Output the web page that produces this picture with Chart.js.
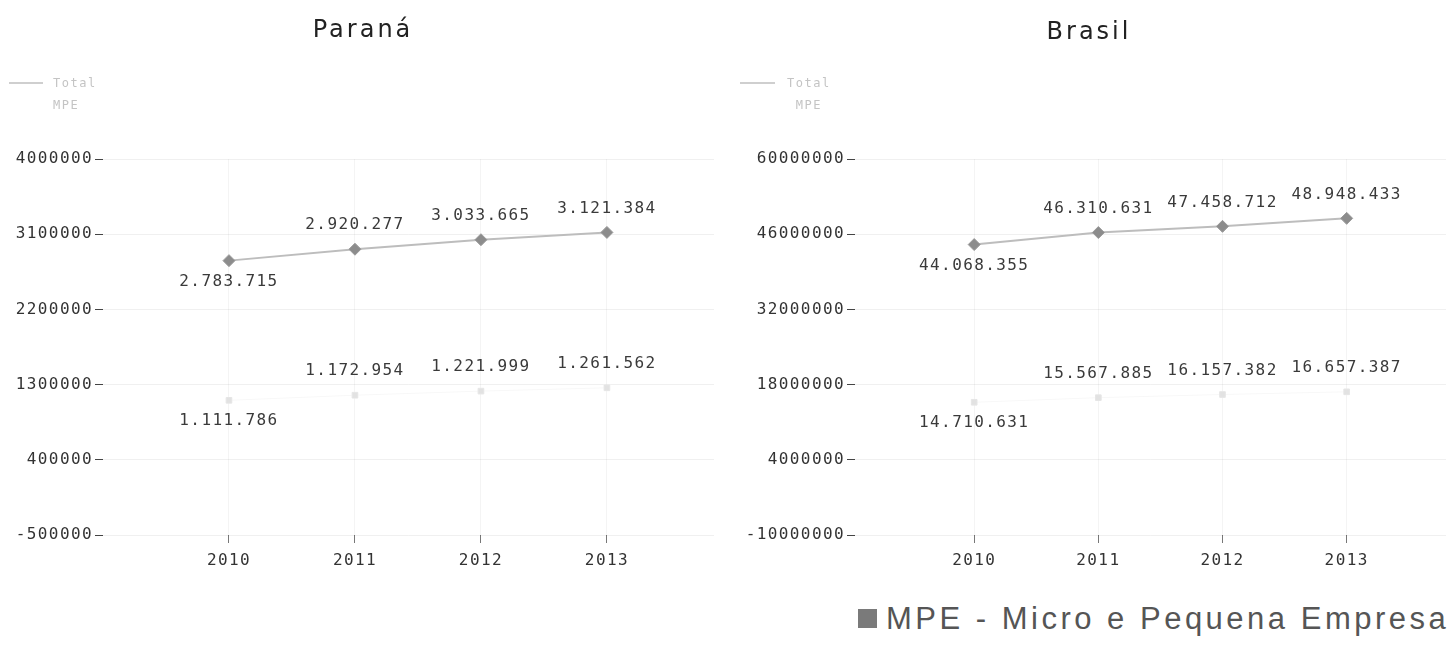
<!DOCTYPE html>
<html>
<head>
<meta charset="utf-8">
<script src="https://cdn.jsdelivr.net/npm/chart.js@4.4.1/dist/chart.umd.min.js"></script>
<style>
  html, body {margin: 0; padding: 0; background: #fff;}
  body {width: 1453px; height: 649px; position: relative; overflow: hidden;}
  .box {position: absolute; top: 0; height: 600px;}
  .title {position: absolute; font-family: "DejaVu Sans", sans-serif; font-size: 24px; letter-spacing: 3px; color: #222; transform: translateX(-50%); white-space: nowrap;}
  .mini {position: absolute; font-family: "DejaVu Sans Mono", monospace; font-size: 12px; letter-spacing: 1.5px; color: #c4c4c4; line-height: 22px;}
  .mini .swatch {position: absolute; height: 2px; background: #cfcfcf;}
  .bottom {position: absolute; left: 858px; top: 601px; font-family: "Liberation Sans", Arial, sans-serif; font-size: 31px; letter-spacing: 3.5px; color: #555; white-space: nowrap;}
  .bottom span {display: inline-block; width: 19px; height: 19px; background: #7a7a7a; margin-right: 9px; vertical-align: 1px;}
</style>
</head>
<body>
<div class="box" style="left:0;width:725px"><canvas id="paranaChart"></canvas></div>
<div class="box" style="left:725px;width:728px"><canvas id="brasilChart"></canvas></div>

<div class="title" style="left:363px;top:15px">Paraná</div>
<div class="title" style="left:1089px;top:17px">Brasil</div>

<div class="mini" style="left:53px;top:72px"><div class="swatch" style="left:-44px;top:10px;width:34px"></div>Total<br>MPE</div>
<div class="mini" style="left:787px;top:72px"><div class="swatch" style="left:-47px;top:10px;width:35px"></div>Total<br>&nbsp;MPE</div>

<div class="bottom"><span></span>MPE - Micro e Pequena Empresa</div>

<script>
const years = [2010, 2011, 2012, 2013];
const paranaTotal = [2783715, 2920277, 3033665, 3121384];
const paranaMpe = [1111786, 1172954, 1221999, 1261562];
const brasilTotal = [44068355, 46310631, 47458712, 48948433];
const brasilMpe = [14710631, 15567885, 16157382, 16657387];
const paranaTicks = [-500000, 400000, 1300000, 2200000, 3100000, 4000000];
const brasilTicks = [-10000000, 4000000, 18000000, 32000000, 46000000, 60000000];

const monoFont = "DejaVu Sans Mono";
const spacing = "1.4px";

function fmtBR(v) {
  return String(v).replace(/\B(?=(\d{3})+(?!\d))/g, ".");
}

// spaced-out mono text like the original, plus value labels above/below the points
const valueLabels = {
  id: "valueLabels",
  beforeDraw(chart) {
    chart.ctx.letterSpacing = spacing;
  },
  afterDatasetsDraw(chart) {
    const ctx = chart.ctx;
    ctx.save();
    ctx.letterSpacing = spacing;
    ctx.font = "16px '" + monoFont + "'";
    ctx.fillStyle = "#3a3a3a";
    ctx.textAlign = "center";
    ctx.textBaseline = "middle";
    chart.data.datasets.forEach((ds, i) => {
      chart.getDatasetMeta(i).data.forEach((pt, j) => {
        const dy = j === 0 ? 21 : -24;
        ctx.fillText(fmtBR(ds.data[j].y), pt.x, pt.y + dy);
      });
    });
    ctx.restore();
  }
};

function makeChart(id, totals, mpes, yTicks, o) {
  const canvas = document.getElementById(id);
  return new Chart(canvas, {
    type: "line",
    data: {
      datasets: [
        {label: "Total", data: years.map((y, i) => ({x: y, y: totals[i]})), borderColor: "#bdbdbd", borderWidth: 2, backgroundColor: "#8c8c8c",
          pointStyle: "rectRot", pointRadius: 6, pointBorderColor: "#9a9a9a", pointBorderWidth: 1, tension: 0},
        {label: "MPE", data: years.map((y, i) => ({x: y, y: mpes[i]})), borderColor: "rgba(0,0,0,0.03)", borderWidth: 1, backgroundColor: "#e2e2e2",
          pointStyle: "rect", pointRadius: 4, pointBorderColor: "#e6e6e6", pointBorderWidth: 1, tension: 0}
      ]
    },
    options: {
      responsive: true, maintainAspectRatio: false, animation: false,
      layout: {padding: {top: 159, left: 0, right: o.padRight, bottom: 35}},
      plugins: {legend: {display: false}, tooltip: {enabled: false}, title: {display: false}},
      scales: {
        x: {type: "linear", min: o.xMin, max: o.xMax,
          afterBuildTicks: s => { s.ticks = years.map(v => ({value: v})); },
          afterFit: s => { s.height = 30; },
          border: {display: false},
          grid: {color: "rgba(0,0,0,0.045)", tickColor: "#777", tickLength: 8, tickWidth: 1},
          ticks: {padding: 8, color: "#333", font: {family: monoFont, size: 16}, callback: v => String(v)}},
        y: {min: yTicks[0], max: yTicks[yTicks.length - 1],
          afterBuildTicks: s => { s.ticks = yTicks.map(v => ({value: v})); },
          afterFit: s => { s.width = o.yWidth; },
          border: {display: false},
          grid: {color: "rgba(0,0,0,0.06)", tickColor: "#444", tickLength: 8, tickWidth: 1},
          ticks: {padding: 2, color: "#333", font: {family: monoFont, size: 16}, callback: v => String(v)}}
      }
    },
    plugins: [valueLabels]
  });
}

document.addEventListener("DOMContentLoaded", function () {
  makeChart("paranaChart", paranaTotal, paranaMpe, paranaTicks, {xMin: 2009, xMax: 2013.85, yWidth: 103, padRight: 11});
  makeChart("brasilChart", brasilTotal, brasilMpe, brasilTicks, {xMin: 2009.04, xMax: 2013.8, yWidth: 130, padRight: 3});
});
</script>
</body>
</html>
